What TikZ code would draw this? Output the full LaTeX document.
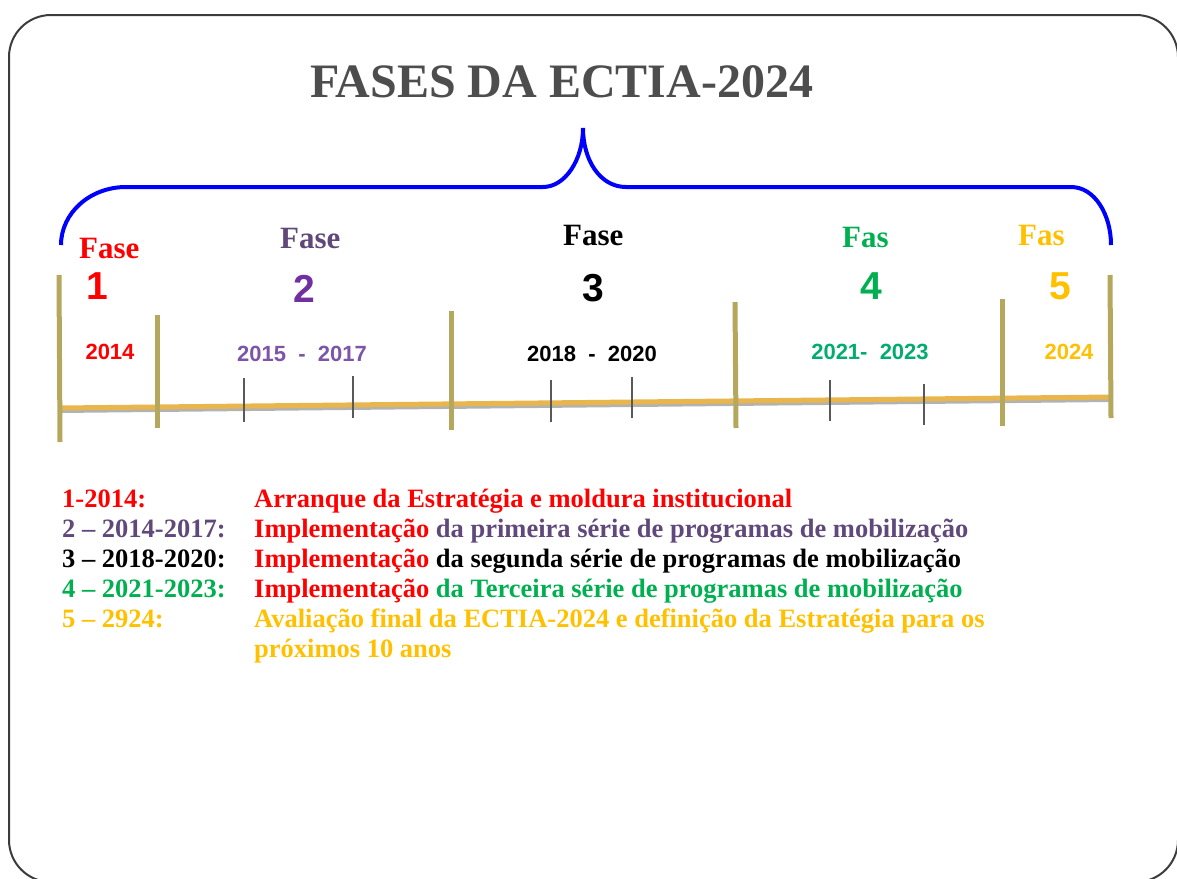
\documentclass[tikz,border=0pt]{standalone}
\usepackage{fontspec}
\setmainfont{Liberation Serif}
\newfontfamily\arialfont{Liberation Sans}

\definecolor{titlegray}{RGB}{77,77,77}
\definecolor{fasered}{RGB}{255,0,0}
\definecolor{fasepurple}{RGB}{96,73,122}
\definecolor{digitpurple}{RGB}{112,48,160}
\definecolor{yearpurple}{RGB}{125,85,168}
\definecolor{fasegreen}{RGB}{0,176,80}
\definecolor{yeargreen}{RGB}{0,172,110}
\definecolor{fasegold}{RGB}{255,192,0}
\definecolor{axisgold}{RGB}{232,182,76}
\definecolor{tickolive}{RGB}{181,168,92}
\definecolor{framegray}{RGB}{60,60,60}

\tikzset{
	fasename/.style={font=\fontsize{31}{31}\selectfont\bfseries, anchor=base west, inner sep=0pt},
	fasenum/.style={font=\arialfont\fontsize{39}{39}\selectfont\bfseries, inner sep=0pt},
	years/.style={font=\arialfont\fontsize{22}{22}\selectfont\bfseries, inner sep=0pt},
	legend/.style={font=\fontsize{26.5}{30}\selectfont\bfseries, anchor=base west, inner sep=0pt},
	major/.style={draw=tickolive, line width=5pt},
	minor/.style={draw=black!65, line width=1.5pt},
}

\begin{document}
\begin{tikzpicture}[x=1pt,y=-1pt]
	\useasboundingbox (0,0) rectangle (1177,878);
	\begin{scope}
	\clip (0,0) rectangle (1177,878);
	\draw[framegray, line width=2pt, rounded corners=42pt] (9,15) rectangle (1178,882);
	\end{scope}
	
	\node[font=\fontsize{48}{48}\selectfont\bfseries, text=titlegray, anchor=base west, inner sep=0pt] (title) at (310,97) {FASES DA ECTIA-2024};
	
	% brace
	\coordinate (BL) at (61,245);
	\coordinate (BT) at (583,128);
	\coordinate (BR) at (1111,245);
	\draw[blue, line width=4pt] (BL) .. controls (61,213) and (90,187) .. (126,187) -- (543,187)
		.. controls (565,187) and (583,160) .. (BT)
		.. controls (583,160) and (600,187) .. (626,187) -- (1071,187)
		.. controls (1095,187) and (1111,215) .. (BR);
	
	\begin{scope}[every node/.style={fasename}]
	\node[text=fasered] (F1) at (79,258) {Fase};
	\node[text=fasepurple] (F2) at (280,248) {Fase};
	\node[text=black] (F3) at (563,245) {Fase};
	\node[text=fasegreen] (F4) at (842,247) {Fas};
	\node[text=fasegold] (F5) at (1018,245) {Fas};
	\end{scope}
	
	\begin{scope}[every node/.style={fasenum}]
	\node[text=fasered] (N1) at (97,286) {1};
	\node[text=digitpurple] (N2) at (304,289) {2};
	\node[text=black] (N3) at (593,288) {3};
	\node[text=fasegreen] (N4) at (871,286) {4};
	\node[text=fasegold] (N5) at (1060,286) {5};
	\end{scope}
	
	\begin{scope}[every node/.style={years}]
	\node[text=fasered] (Y1) at (110,352) {2014};
	\node[text=yearpurple] (Y2) at (302,354) {2015\ \ -\ \ 2017};
	\node[text=black] (Y3) at (592,354) {2018\ \ -\ \ 2020};
	\node[text=yeargreen] (Y4) at (870,352) {2021-\ \ 2023};
	\node[text=fasegold] (Y5) at (1069,352) {2024};
	\end{scope}
	
	% time axis
	\coordinate (AL) at (59,408);
	\coordinate (AR) at (1112,397);
	\path[draw=black!30, line width=5pt, transform canvas={yshift=-2.5pt}] (AL) -- (AR);
	\path[draw=axisgold, line width=5pt] (AL) -- (AR);
	
	\coordinate (M1a) at (59,275);   \coordinate (M1b) at (60,442);
	\coordinate (M2a) at (157,315);  \coordinate (M2b) at (157,428);
	\coordinate (M3a) at (451,311);  \coordinate (M3b) at (451,430);
	\coordinate (M4a) at (735,302);  \coordinate (M4b) at (736,428);
	\coordinate (M5a) at (1002,299); \coordinate (M5b) at (1002,426);
	\coordinate (M6a) at (1110,275); \coordinate (M6b) at (1111,418);
	\path[major] (M1a) edge (M1b);
	\path[major] (M2a) edge (M2b);
	\path[major] (M3a) edge (M3b);
	\path[major] (M4a) edge (M4b);
	\path[major] (M5a) edge (M5b);
	\path[major] (M6a) edge (M6b);
	
	\coordinate (m1a) at (244,378); \coordinate (m1b) at (244,422);
	\coordinate (m2a) at (353,376); \coordinate (m2b) at (353,418);
	\coordinate (m3a) at (551,380); \coordinate (m3b) at (551,422);
	\coordinate (m4a) at (632,377); \coordinate (m4b) at (632,418);
	\coordinate (m5a) at (830,380); \coordinate (m5b) at (830,421);
	\coordinate (m6a) at (924,384); \coordinate (m6b) at (924,425);
	\path[minor] (m1a) edge (m1b);
	\path[minor] (m2a) edge (m2b);
	\path[minor] (m3a) edge (m3b);
	\path[minor] (m4a) edge (m4b);
	\path[minor] (m5a) edge (m5b);
	\path[minor] (m6a) edge (m6b);
	
	% legend
	\begin{scope}[every node/.style={legend}]
	\node[text=fasered] (L1) at (62,507) {1-2014:};
	\node[text=fasered] (D1) at (254,507) {Arranque da Estratégia e moldura institucional};
	\node[text=fasepurple] (L2) at (62,537) {2 – 2014-2017:};
	\node[text=fasepurple] (D2) at (254,537) {\textcolor{fasered}{Implementação} da primeira série de programas de mobilização};
	\node[text=black] (L3) at (62,567) {3 – 2018-2020:};
	\node[text=black] (D3) at (254,567) {\textcolor{fasered}{Implementação} da segunda série de programas de mobilização};
	\node[text=fasegreen] (L4) at (62,597) {4 – 2021-2023:};
	\node[text=fasegreen] (D4) at (254,597) {\textcolor{fasered}{Implementação} da Terceira série de programas de mobilização};
	\node[text=fasegold] (L5) at (62,627) {5 – 2924:};
	\node[text=fasegold] (D5) at (254,627) {Avaliação final da ECTIA-2024 e definição da Estratégia para os};
	\node[text=fasegold] (D6) at (254,657) {próximos 10 anos};
	\end{scope}
\end{tikzpicture}
\end{document}
